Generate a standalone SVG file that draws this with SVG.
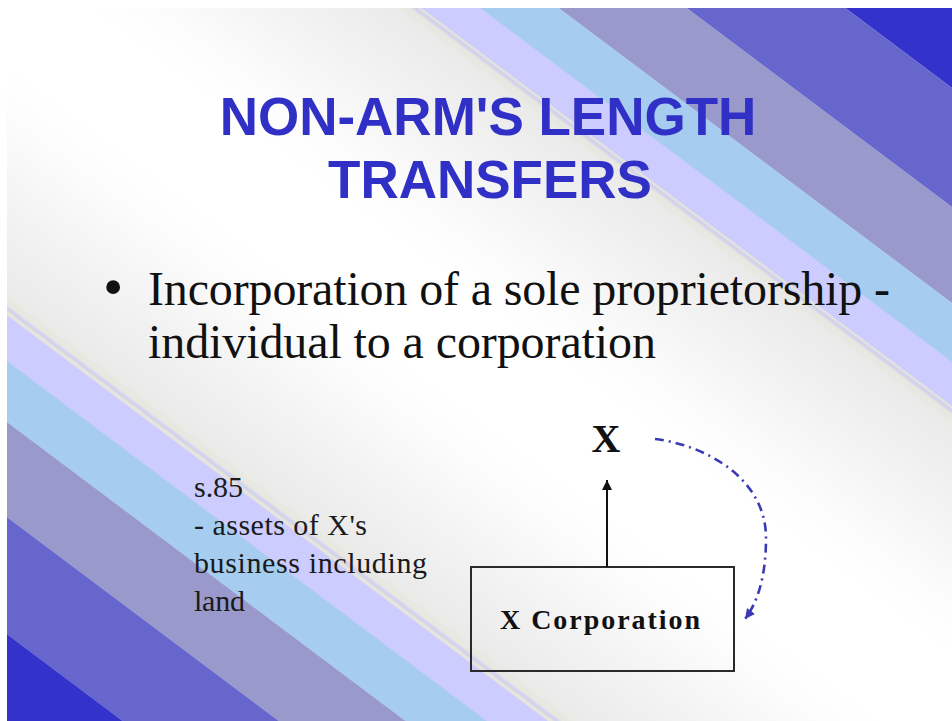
<svg xmlns="http://www.w3.org/2000/svg" width="952" height="721" viewBox="0 0 952 721">
<style>
.title{font-family:"Liberation Sans",Arial,sans-serif;font-weight:bold;font-size:53px;fill:#3030c6;text-anchor:middle}
.body{font-family:"Liberation Serif","Times New Roman",serif;font-size:48px;fill:#111}
.note{font-family:"Liberation Serif","Times New Roman",serif;font-size:30px;fill:#1a1a1a}
.lbl{font-family:"Liberation Serif","Times New Roman",serif;font-weight:bold;fill:#111}
.box{fill:none;stroke:#2a2a2a;stroke-width:2}
.link{fill:none;stroke:#111;stroke-width:2}
.flow{fill:none;stroke:#3a3ab4;stroke-width:2.6;stroke-dasharray:9 5 2 5}
</style>
<defs>
<linearGradient id="pale" gradientUnits="userSpaceOnUse" x1="631" y1="153.3" x2="323.8" y2="562.9">
<stop offset="0" stop-color="#ccccff"/>
<stop offset="0.006" stop-color="#e4e4de"/>
<stop offset="0.02" stop-color="#e6e6dc"/>
<stop offset="0.026" stop-color="#cfcff0"/>
<stop offset="0.033" stop-color="#e8e8e0"/>
<stop offset="0.06" stop-color="#ebebeb"/>
<stop offset="0.19" stop-color="#f3f3f3"/>
<stop offset="0.33" stop-color="#fcfcfc"/>
<stop offset="0.41" stop-color="#ffffff"/>
<stop offset="0.59" stop-color="#ffffff"/>
<stop offset="0.67" stop-color="#fcfcfc"/>
<stop offset="0.81" stop-color="#f3f3f3"/>
<stop offset="0.94" stop-color="#ebebeb"/>
<stop offset="0.967" stop-color="#e8e8e0"/>
<stop offset="0.974" stop-color="#cfcff0"/>
<stop offset="0.98" stop-color="#e6e6dc"/>
<stop offset="0.994" stop-color="#e4e4de"/>
<stop offset="1" stop-color="#ccccff"/>
</linearGradient>
<marker id="ah" viewBox="0 0 10 10" refX="10" refY="5" markerWidth="10" markerHeight="10" markerUnits="userSpaceOnUse" orient="auto">
<path d="M0,0 L10,5 L0,10 z" fill="#111"/>
</marker>
<marker id="ahb" viewBox="0 0 10 10" refX="10" refY="5" markerWidth="10" markerHeight="10" markerUnits="userSpaceOnUse" orient="auto">
<path d="M0,0 L10,5 L0,10 z" fill="#3a3ab4"/>
</marker>
</defs>

<g id="background">
<rect x="0" y="0" width="952" height="721" fill="url(#pale)"/>
<polygon points="-50,-1437.5 1000,-650 1000,124 -50,-663.5" fill="#3333cc"/>
<polygon points="-50,-663.5 1000,124 1000,243 -50,-544.5" fill="#6666cc"/>
<polygon points="-50,-544.5 1000,243 1000,339 -50,-448.5" fill="#9999cc"/>
<polygon points="-50,-448.5 1000,339 1000,398 -50,-389.5" fill="#a6cdef"/>
<polygon points="-50,-389.5 1000,398 1000,442 -50,-345.5" fill="#ccccff"/>
<polygon points="-50,272.5 1000,1060 1000,1106 -50,318.5" fill="#ccccff"/>
<polygon points="-50,318.5 1000,1106 1000,1167 -50,379.5" fill="#a6cdef"/>
<polygon points="-50,379.5 1000,1167 1000,1262 -50,474.5" fill="#9999cc"/>
<polygon points="-50,474.5 1000,1262 1000,1379 -50,591.5" fill="#6666cc"/>
<polygon points="-50,591.5 1000,1379 1000,2200 -50,1400" fill="#3333cc"/>
<rect x="0" y="0" width="952" height="8" fill="#ffffff"/>
<rect x="0" y="0" width="7" height="721" fill="#ffffff"/>
</g>

<g id="title">
<text class="title" x="488" y="135">NON-ARM'S LENGTH</text>
<text class="title" x="490" y="198">TRANSFERS</text>
</g>

<g id="bullet">
<text class="body" x="103" y="306" style="font-size:58px">•</text>
<text class="body" x="148" y="305" textLength="742" lengthAdjust="spacing">Incorporation of a sole proprietorship -</text>
<text class="body" x="148" y="358" textLength="508" lengthAdjust="spacing">individual to a corporation</text>
</g>

<g id="note">
<text class="note" x="194" y="497" textLength="49" lengthAdjust="spacing">s.85</text>
<text class="note" x="194" y="535" textLength="173" lengthAdjust="spacing">- assets of X's</text>
<text class="note" x="194" y="573" textLength="233" lengthAdjust="spacing">business including</text>
<text class="note" x="194" y="611" textLength="51" lengthAdjust="spacing">land</text>
</g>

<g id="node-x">
<text class="lbl" x="606" y="452" text-anchor="middle" style="font-size:40px">X</text>
</g>

<g id="node-x-corporation">
<rect class="box" x="471" y="567" width="263" height="104"/>
<text class="lbl" x="500" y="629" style="font-size:28px" textLength="200" lengthAdjust="spacing">X Corporation</text>
</g>

<g id="connectors">
<line class="link" x1="607" y1="567" x2="607" y2="480" marker-end="url(#ah)"/>
<path class="flow" d="M655,439 C705,445 766,478 766,538 C766,578 757,603 745,619" marker-end="url(#ahb)"/>
</g>
</svg>
